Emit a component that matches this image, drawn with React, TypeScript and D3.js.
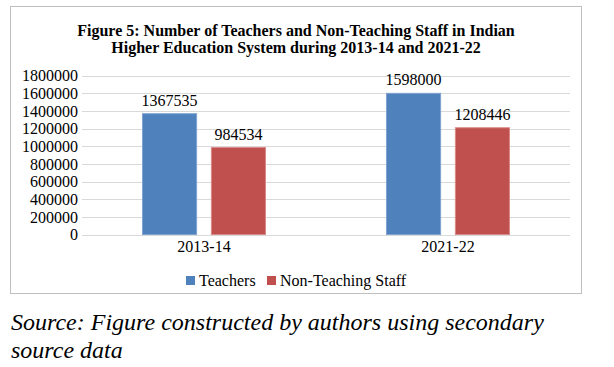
import { useRef, useEffect } from "react";
import * as d3 from "d3";

const categories = ["2013-14", "2021-22"];
const seriesNames = ["Teachers", "Non-Teaching Staff"];
const teachers = [1367535, 1598000];
const nonTeaching = [984534, 1208446];
const yTicks = [0, 200000, 400000, 600000, 800000, 1000000, 1200000, 1400000, 1600000, 1800000];
const titleLines = [
  "Figure 5: Number of Teachers and Non-Teaching Staff in Indian",
  "Higher Education System during 2013-14 and 2021-22",
];
const sourceLines = ["Source: Figure constructed by authors using secondary", "source data"];

const COLORS = {
  teachers: "#4F81BD",
  nonTeaching: "#C0504D",
  teachersEdge: "#7FA3D0",
  nonTeachingEdge: "#D98A88",
  grid: "#D9D9D9",
  border: "#BFBFBF",
  text: "#000000",
};

const FONT = "'Liberation Serif', 'Times New Roman', Times, serif";

export default function App() {
  const svgRef = useRef<SVGSVGElement>(null);

  useEffect(() => {
    if (!svgRef.current) return;
    const width = 614;
    const height = 367;
    const svg = d3.select(svgRef.current);
    svg.selectAll("*").remove();
    svg.attr("viewBox", `0 0 ${width} ${height}`).attr("width", width).attr("height", height);

    svg.append("rect").attr("width", width).attr("height", height).attr("fill", "#fff");

    // chart frame
    svg
      .append("rect")
      .attr("x", 10.5)
      .attr("y", 6.5)
      .attr("width", 571)
      .attr("height", 287)
      .attr("fill", "#fff")
      .attr("stroke", COLORS.border)
      .attr("stroke-width", 1);

    // title
    svg
      .append("g")
      .selectAll("text")
      .data(titleLines)
      .enter()
      .append("text")
      .attr("x", 296)
      .attr("y", (_, i) => 36 + i * 17)
      .attr("text-anchor", "middle")
      .style("font-family", FONT)
      .attr("font-weight", "bold")
      .attr("font-size", "16px")
      .attr("fill", COLORS.text)
      .text((d) => d);

    const plot = { left: 82, right: 570, top: 75.5, bottom: 234.5 };

    const y = d3.scaleLinear().domain([0, 1800000]).range([plot.bottom, plot.top]);
    const x0 = d3
      .scaleBand<string>()
      .domain(categories)
      .range([plot.left, plot.right])
      .paddingInner(0.492)
      .paddingOuter(0.246);
    const x1 = d3.scaleBand<string>().domain(seriesNames).range([0, x0.bandwidth()]).paddingInner(0.2);

    // grid
    svg
      .append("g")
      .selectAll("line")
      .data(yTicks)
      .enter()
      .append("line")
      .attr("x1", plot.left)
      .attr("x2", plot.right)
      .attr("y1", (d) => Math.round(y(d)) + 0.5)
      .attr("y2", (d) => Math.round(y(d)) + 0.5)
      .attr("stroke", COLORS.grid)
      .attr("stroke-width", 1);

    // y axis labels
    svg
      .append("g")
      .attr("transform", `translate(${plot.left - 4},0)`)
      .call(d3.axisLeft(y).tickValues(yTicks).tickFormat((d) => `${d}`).tickSize(0).tickPadding(0))
      .call((s) => s.select(".domain").remove())
      .call((s) =>
        s
          .selectAll(".tick text")
          .attr("fill", COLORS.text)
          .style("font-family", FONT)
          .attr("font-size", "16px")
          .attr("dy", "0.33em")
      );

    const rows = categories.map((c, i) => ({
      category: c,
      values: [
        { name: seriesNames[0], value: teachers[i], fill: COLORS.teachers, edge: COLORS.teachersEdge },
        { name: seriesNames[1], value: nonTeaching[i], fill: COLORS.nonTeaching, edge: COLORS.nonTeachingEdge },
      ],
    }));

    const groups = svg
      .append("g")
      .selectAll("g")
      .data(rows)
      .enter()
      .append("g")
      .attr("transform", (d) => `translate(${x0(d.category)},0)`);

    groups
      .selectAll("rect")
      .data((d) => d.values)
      .enter()
      .append("rect")
      .attr("x", (d) => (x1(d.name) ?? 0) + 0.5)
      .attr("y", (d) => y(d.value))
      .attr("width", x1.bandwidth() - 1)
      .attr("height", (d) => plot.bottom - y(d.value))
      .attr("fill", (d) => d.fill)
      .attr("stroke", (d) => d.edge)
      .attr("stroke-width", 1);

    groups
      .selectAll("text")
      .data((d) => d.values)
      .enter()
      .append("text")
      .attr("x", (d) => (x1(d.name) ?? 0) + x1.bandwidth() / 2)
      .attr("y", (d) => y(d.value) - 8)
      .attr("text-anchor", "middle")
      .style("font-family", FONT)
      .attr("font-size", "16px")
      .attr("fill", COLORS.text)
      .text((d) => `${d.value}`);

    // x axis labels
    svg
      .append("g")
      .attr("transform", `translate(0,${plot.bottom})`)
      .call(d3.axisBottom(x0).tickSize(0).tickPadding(0))
      .call((s) => s.select(".domain").remove())
      .call((s) =>
        s
          .selectAll(".tick text")
          .attr("fill", COLORS.text)
          .style("font-family", FONT)
          .attr("font-size", "16px")
          .attr("dy", "1.1em")
      );

    // legend
    const legendItems = [
      { name: seriesNames[0], fill: COLORS.teachers, x: 186 },
      { name: seriesNames[1], fill: COLORS.nonTeaching, x: 267 },
    ];
    const legend = svg.append("g").attr("transform", "translate(0,276)");
    legend
      .selectAll("rect")
      .data(legendItems)
      .enter()
      .append("rect")
      .attr("x", (d) => d.x)
      .attr("y", 0)
      .attr("width", 9)
      .attr("height", 9)
      .attr("fill", (d) => d.fill);
    legend
      .selectAll("text")
      .data(legendItems)
      .enter()
      .append("text")
      .attr("x", (d) => d.x + 13)
      .attr("y", 10)
      .style("font-family", FONT)
      .attr("font-size", "16px")
      .attr("fill", COLORS.text)
      .text((d) => d.name);

    // source note
    svg
      .append("g")
      .selectAll("text")
      .data(sourceLines)
      .enter()
      .append("text")
      .attr("x", 11)
      .attr("y", (_, i) => 330 + i * 28)
      .style("font-family", FONT)
      .attr("font-style", "italic")
      .attr("font-size", "24px")
      .attr("fill", COLORS.text)
      .text((d) => d);
  }, []);

  return (
    <div style={{ position: "fixed", left: 0, top: 0, width: 614, height: 367, background: "#fff" }}>
      <svg ref={svgRef} style={{ display: "block" }} />
    </div>
  );
}
